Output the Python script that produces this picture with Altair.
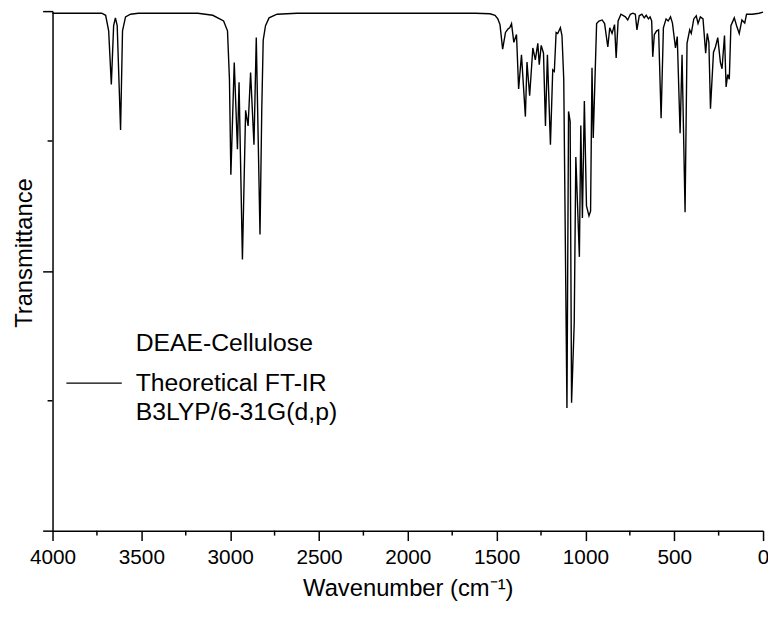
import altair as alt
import pandas as pd

# ---- spectrum values (wavenumber in cm-1, transmittance in %) ----
wavenumber = [
    4000, 3795, 3723, 3701, 3684, 3669, 3656, 3646, 3636, 3617, 3606, 3589, 3561, 3517,
    3182, 3098, 3059, 3037, 3015, 3004, 2996, 2977, 2959, 2950, 2931, 2913, 2899, 2885,
    2866, 2853, 2832, 2822, 2814, 2801, 2781, 2736, 2624,
    1621, 1537, 1509, 1493, 1481, 1466, 1450, 1435, 1426, 1416, 1403, 1388, 1376, 1360,
    1338, 1329, 1314, 1296, 1282, 1268, 1260, 1249, 1236, 1225, 1214, 1197, 1184, 1175,
    1165, 1156, 1141, 1132, 1122, 1104, 1095, 1086, 1078, 1063, 1054, 1034, 1026, 1017,
    1006, 994, 980, 971, 963, 956, 937, 924, 906, 892, 874, 863, 850, 836,
    827, 816, 800, 775, 762, 747, 733, 719, 710, 697, 682, 669, 658, 645,
    636, 627, 621, 612, 599, 588, 574, 561, 546, 534, 521, 510, 493, 483,
    467, 456, 439, 428, 413, 404, 390, 376, 366, 353, 338, 323, 314, 305,
    296, 279, 268, 255, 240, 231, 217, 208, 199, 190, 181, 162, 149, 134,
    119, 103, 93, 60, 22, 0,
]
transmittance = [
    99.6, 99.6, 99.6, 99.2, 96.2, 85.9, 97.2, 98.7, 97.2, 77.1, 96.2, 98.9, 99.4, 99.6,
    99.6, 99.2, 98.5, 98.1, 96.2, 86.9, 68.5, 90.1, 73.4, 86.3, 52.2, 80.9, 77.9, 88.2,
    74.3, 94.9, 57.0, 81.2, 94.4, 97.2, 98.7, 99.4, 99.6,
    99.6, 99.5, 99.2, 98.5, 97.4, 92.7, 95.9, 96.6, 96.8, 97.6, 94.0, 95.5, 85.0, 91.6,
    79.7, 90.2, 83.7, 92.9, 90.6, 93.8, 89.7, 93.4, 91.9, 77.9, 91.6, 74.3, 88.7, 88.4,
    95.9, 95.7, 96.8, 95.3, 86.9, 23.6, 80.7, 78.8, 24.6, 40.0, 71.9, 52.7, 78.0, 60.2,
    82.7, 62.5, 60.6, 61.5, 89.1, 75.6, 97.6, 98.1, 98.3, 97.6, 93.1, 96.8, 95.7, 97.4,
    91.0, 98.1, 99.4, 98.9, 98.3, 99.4, 99.6, 99.4, 96.4, 99.1, 99.4, 98.7, 99.2, 98.5,
    98.9, 98.1, 91.2, 95.5, 96.2, 96.4, 79.4, 96.8, 98.5, 98.1, 98.9, 97.7, 92.9, 95.1,
    76.5, 91.6, 61.3, 93.8, 96.4, 95.7, 98.5, 99.1, 97.6, 98.9, 98.5, 91.9, 95.7, 94.0,
    81.2, 92.1, 93.1, 94.9, 90.1, 88.9, 95.3, 85.4, 87.8, 86.9, 97.2, 98.7, 97.2, 95.7,
    98.3, 97.7, 99.4, 99.4, 99.6, 99.8,
]
assert len(wavenumber) == len(transmittance)

x_major = [0, 500, 1000, 1500, 2000, 2500, 3000, 3500, 4000]
x_minor = [250, 750, 1250, 1750, 2250, 2750, 3250, 3750]
y_major = [0, 50, 100]
y_minor = [25, 75]

legend_lines = ["DEAE-Cellulose", "Theoretical FT-IR", "B3LYP/6-31G(d,p)"]
x_title = "Wavenumber (cm\u207b\u00b9)"
y_title = "Transmittance"

W, H = 718, 525
FONT = "Liberation Sans"

df = pd.DataFrame({"wn": wavenumber, "T": transmittance})
xs = alt.Scale(domain=[0, 4000], reverse=True, nice=False, zero=False)
ys = alt.Scale(domain=[0, 100], nice=False, zero=False)

x_axis = alt.Axis(
    values=x_major, format="d", tickSize=10, tickWidth=1.5, tickColor="black",
    domainColor="black", domainWidth=1.5, grid=False,
    labelFont=FONT, labelFontSize=21, labelColor="black", labelPadding=6,
    labelFlush=False, labelOverlap=False,
    titleFont=FONT, titleFontSize=24, titleFontWeight="normal",
    titleColor="black", titleY=66, titleBaseline="alphabetic")
y_axis = alt.Axis(
    values=y_major, labels=False, tickSize=10, tickWidth=1.5, tickColor="black",
    domainColor="black", domainWidth=1.5, grid=False,
    titleFont=FONT, titleFontSize=24, titleFontWeight="normal",
    titleColor="black", titleAngle=-90, titleX=-21, titleY=244,
    titleAlign="center", titleBaseline="alphabetic")

line = alt.Chart(df).mark_line(color="black", strokeWidth=1.4).encode(
    x=alt.X("wn:Q", scale=xs, axis=x_axis, title=x_title),
    y=alt.Y("T:Q", scale=ys, axis=y_axis, title=y_title),
)

xminor = alt.Chart(pd.DataFrame({"wn": x_minor})).mark_rule(color="black", strokeWidth=1.5).encode(
    x=alt.X("wn:Q", scale=xs, axis=x_axis, title=x_title),
    y=alt.value(H), y2=alt.value(H + 5),
)
yminor = alt.Chart(pd.DataFrame({"T": y_minor})).mark_rule(color="black", strokeWidth=1.5).encode(
    y=alt.Y("T:Q", scale=ys, axis=y_axis, title=y_title),
    x=alt.value(0), x2=alt.value(-5),
)

one = pd.DataFrame({"a": [0]})
leg_line = alt.Chart(one).mark_rule(color="black", strokeWidth=1.3).encode(
    x=alt.value(14), x2=alt.value(70), y=alt.value(376)
)
texts = []
for label, ypos in zip(legend_lines, [343, 384, 413]):
    texts.append(alt.Chart(one).mark_text(text=label, font=FONT, fontSize=25, align="left",
                                          baseline="alphabetic", color="black").encode(
        x=alt.value(84), y=alt.value(ypos)))

chart = alt.layer(line, xminor, yminor, leg_line, *texts).properties(
    width=W, height=H, autosize="none",
    padding={"left": 45, "top": 0, "right": 5, "bottom": 75},
).configure_view(stroke=None)

chart.save("out.html", embed_options={"renderer": "svg", "actions": False})
